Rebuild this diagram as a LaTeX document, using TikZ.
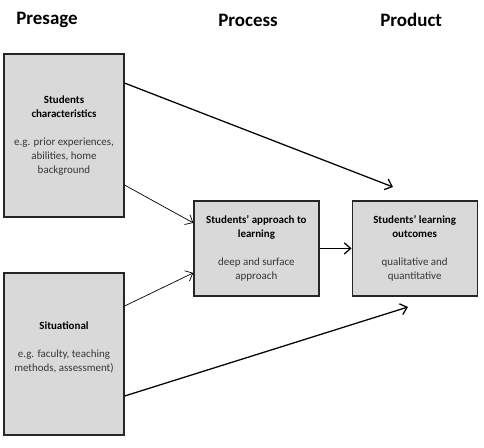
\documentclass[tikz,border=0pt]{standalone}
\usepackage{fontspec}
\setmainfont{Carlito}
\usepackage{xcolor}
\usepackage{tikz}
\usetikzlibrary{arrows.meta}
\usetikzlibrary{positioning}
\definecolor{boxgray}{RGB}{217, 217, 217}
\definecolor{textgray}{RGB}{55, 55, 55}

\tikzset{
  stagebox/.style={draw=black!85, line width=0.9pt, fill=boxgray, align=center,
    font=\fontsize{7.8}{10}\selectfont, text=textgray},
  heading/.style={font=\fontsize{13.5}{16}\selectfont\bfseries},
  thinarrow/.style={->, line width=0.5pt},
  thickarrow/.style={->, line width=0.9pt}
}

\begin{document}
\begin{tikzpicture}[>={Straight Barb[length=4.5pt,width=8pt]}]
            \useasboundingbox (0,0) rectangle (12.1,-11.175);
            % column headings
            \node[heading] (presage) at (1.175, -0.5) {Presage};
            \node[heading] (process) at (6.2, -0.5) {Process};
            \node[heading] (product) at (10.28, -0.5) {Product};
            % boxes
            \node[stagebox, minimum width=3cm, minimum height=4.075cm] (chars) at (1.6, -3.39)
                {\textbf{\color{black}Students}\\ \textbf{\color{black}characteristics}\\[10pt] e.g. prior experiences,\\ abilities, home\\ background};
            \node[stagebox, minimum width=3cm, minimum height=4.05cm] (situ) at (1.6, -8.85)
                {\textbf{\color{black}Situational}\\[10pt] e.g. faculty, teaching\\ methods, assessment)\\[0pt]};
            \node[stagebox, minimum width=3.125cm, minimum height=2.375cm] (approach) at (6.41, -6.21)
                {\textbf{\color{black}Students' approach to}\\ \textbf{\color{black}learning}\\[10pt] deep and surface\\ approach};
            \node[stagebox, minimum width=3.125cm, minimum height=2.375cm, right=0.8cm of approach] (outcomes)
                {\textbf{\color{black}Students' learning}\\ \textbf{\color{black}outcomes}\\[10pt] qualitative and\\ quantitative};
            % arrow ends
            \coordinate (topend) at (9.825, -4.675);
            \coordinate (bottomend) at (10.2, -7.675);
            % arrows
            \draw [thickarrow] ([yshift=1.3125cm]chars.east) -- (topend);
            \draw [thinarrow] ([yshift=-1.2375cm]chars.east) -- ([yshift=0.6375cm]approach.west);
            \draw [thinarrow] ([yshift=1.2cm]situ.east) -- ([yshift=-0.6125cm]approach.west);
            \draw [thickarrow] ([yshift=-1.05cm]situ.east) -- (bottomend);
            \draw [thickarrow] (approach.east) -- (outcomes.west);
        \end{tikzpicture}
\end{document}
